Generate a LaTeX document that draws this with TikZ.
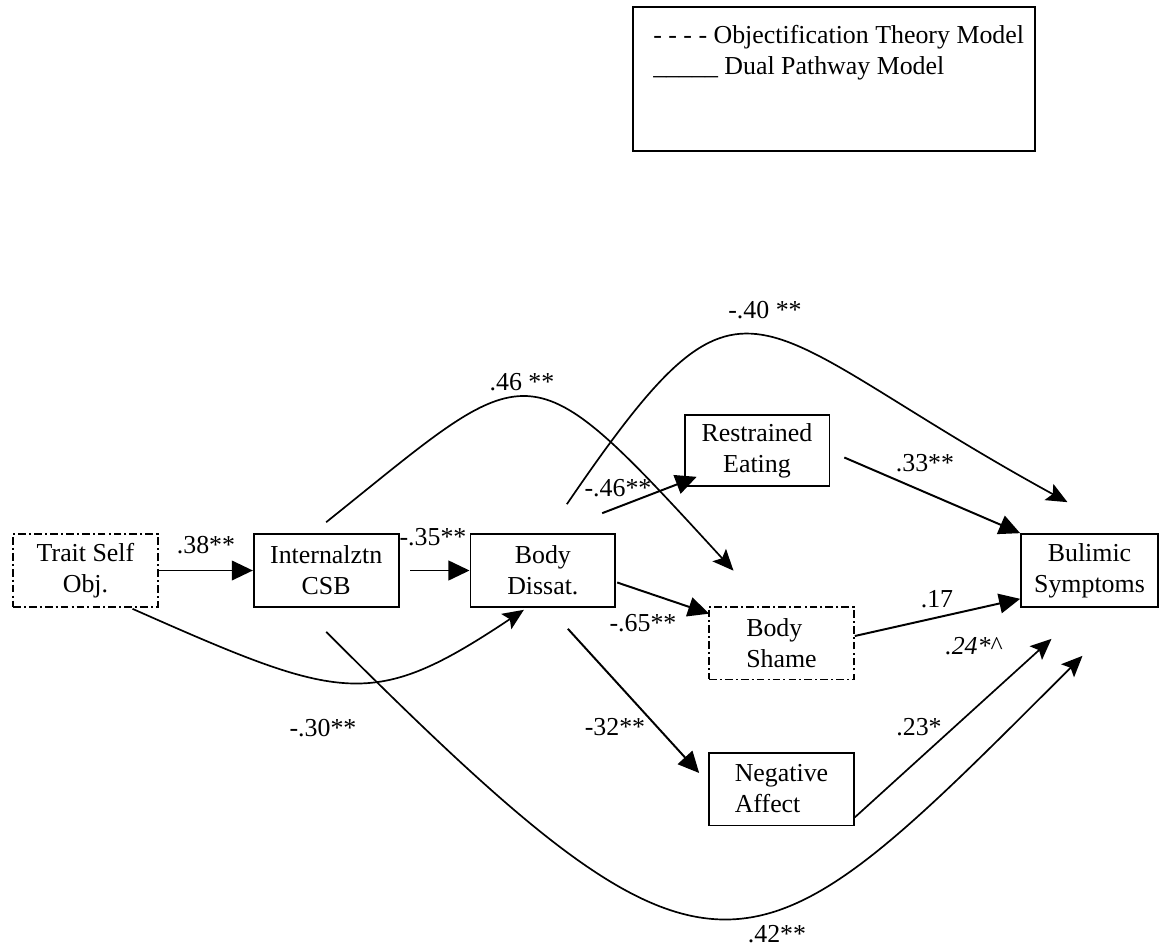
\documentclass[tikz,border=0pt]{standalone}
\usepackage{fontspec}
\setmainfont{Liberation Serif}
\usetikzlibrary{arrows.meta,positioning,calc}

\begin{document}
\begin{tikzpicture}[x=0.025cm, y=-0.025cm,
    construct/.style={rectangle, draw, line width=1.3pt, minimum width=3.62cm,
                      minimum height=1.82cm, inner sep=2pt, align=center,
                      font=\fontsize{18.4}{22}\selectfont},
    objective/.style={construct, dash pattern=on 5.5pt off 2.2pt on 1.4pt off 2.2pt},
    arr/.style={-{Triangle[length=15pt, width=14pt]}, line width=1.4pt},
    curvearr/.style={-{Stealth[length=15pt, width=13pt, inset=3pt]}, line width=1.2pt},
    coef/.style={font=\fontsize{18.4}{22}\selectfont, inner sep=0pt}
]
\useasboundingbox (0,0) rectangle (1160,947);

% legend
\node[draw, line width=1.3pt, minimum width=10.05cm, minimum height=3.6cm] (legend) at (834,79) {};
\node[coef, anchor=north west, align=left] (legtext) at (653,25)
    {- - - - Objectification Theory Model\\\_\_\_\_\_ Dual Pathway Model};

% constructs
\node[objective] (trait) at (85.5,570.5) {Trait Self\\Obj.};
\node[construct, right=2.35cm of trait] (csb) {Internalztn\\CSB};
\node[construct, right=1.75cm of csb] (dissat) {Body\\Dissat.};
\node[construct, minimum height=1.77cm] (restr) at (757,450.5) {Restrained\\Eating};
\node[objective, align=left] (shame) at (781.5,643) {Body\\Shame};
\node[construct, align=left] (negaff) at (781.5,789) {Negative\\Affect};
\node[construct, minimum width=3.42cm] (bulimic) at (1089.5,570.5) {Bulimic\\Symptoms};

% straight paths
\draw[arr] (trait) -- (csb);
\draw[arr, shorten <=0.27cm] (csb) -- (dissat);
\draw[arr] ($(dissat.north east)+(-14,-20)$) -- ($(restr.south west)+(13,-10)$);
\draw[arr] ($(dissat.east)+(1,12)$) -- ($(shame.north west)+(1,8)$);
\draw[arr] ($(dissat.south)+(25,21)$) -- ($(negaff.west)+(-9,-16)$);
\draw[arr] ($(restr.east)+(14,7)$) -- (bulimic.north west);
\draw[arr] ($(shame.east)+(0,-7)$) -- ($(bulimic.south west)+(0,-9)$);
\draw[curvearr] ($(negaff.south east)+(0,-9)$) -- ($(bulimic.south)+(-38,31)$);

% curved paths
\draw[curvearr] ($(trait.south)+(47,1)$) .. controls (343,702) and (372,711) .. ($(dissat.south)+(-19,2)$);
\draw[curvearr] ($(csb.north)+(0,-11)$) .. controls (535,355) and (523,341) .. ($(shame.north)+(-48,-35)$);
\draw[curvearr] ($(dissat.north)+(24,-29)$) .. controls (750,236) and (742,324) .. ($(bulimic.north)+(-22,-31)$);
\draw[curvearr] ($(csb.south)+(0,24)$) .. controls (722,1028) and (747,991) .. ($(bulimic.south)+(-7,48)$);

% coefficients
\node[coef] (c38) at (206,545) {.38**};
\node[coef] (c35) at (433,537) {-.35**};
\node[coef] (c46a) at (522,382) {.46 **};
\node[coef] (c40) at (765,310) {-.40 **};
\node[coef] (c46b) at (618,488) {-.46**};
\node[coef] (c33) at (925,463) {.33**};
\node[coef] (c65) at (643,623) {-.65**};
\node[coef] (c17) at (937,599) {.17};
\node[coef] (c24) at (974,646) {\textit{.24*}\textasciicircum};
\node[coef] (c32) at (615,727) {-32**};
\node[coef] (c23) at (919,727) {.23*};
\node[coef] (c30) at (323,728) {-.30**};
\node[coef] (c42) at (777,934) {.42**};
\end{tikzpicture}
\end{document}
